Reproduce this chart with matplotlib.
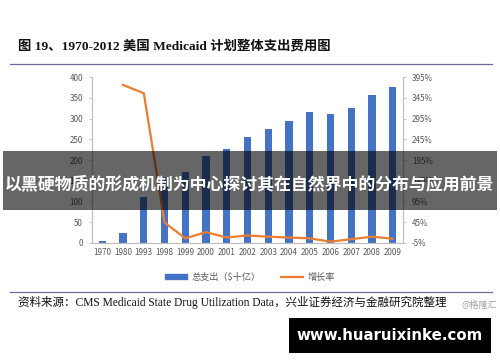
import matplotlib
matplotlib.use("Agg")
import matplotlib.pyplot as plt
from matplotlib.patches import Rectangle
from matplotlib.lines import Line2D
import numpy as np

plt.rcParams['font.family'] = ['Noto Sans CJK SC', 'DejaVu Sans']

years = ["1970", "1980", "1993", "1998", "1999", "2000", "2001", "2002",
         "2003", "2004", "2005", "2006", "2007", "2008", "2009"]
spend = [5, 23, 110, 160, 170, 210, 226, 255, 275, 295, 315, 312, 325, 356, 375]
growth = [np.nan, 376, 356, 44, 6, 21, 8, 13, 10, 8, 6, -2, 4, 10, 5]

blue = "#4472C4"
orange = "#ED7D31"
grey = "#595959"

fig = plt.figure(figsize=(5.0, 3.62), dpi=100)
ax = fig.add_axes([0.184, 0.329, 0.622, 0.458])
x = np.arange(len(years))
ax.bar(x, spend, width=0.35, color=blue, zorder=2)
ax.set_xlim(-0.5, len(years) - 0.5)
ax.set_ylim(0, 400)
ax.set_yticks(range(0, 401, 50))
ax.set_xticks(x)
ax.set_xticklabels(years)

ax2 = ax.twinx()
ax2.plot(x, growth, color=orange, lw=1.6, zorder=3)
ax2.set_ylim(-5, 395)
ax2.set_yticks(range(-5, 396, 50))
ax2.set_yticklabels([f"{v}%" for v in range(-5, 396, 50)])

for a in (ax, ax2):
    a.spines["top"].set_visible(False)
    for s in ("left", "right", "bottom"):
        a.spines[s].set_color("#bfbfbf")
        a.spines[s].set_linewidth(0.8)
    a.tick_params(labelsize=5.8, colors=grey, length=2.5, width=0.6, pad=4)
    a.tick_params(axis="x", length=0)
    a.tick_params(axis="y", color="#bfbfbf")

handles = [Rectangle((0, 0), 1, 1, color=blue),
           Line2D([0], [0], color=orange, lw=1.6)]
fig.legend(handles, ["总支出（$十亿）", "增长率"], loc="center",
           bbox_to_anchor=(0.5, 1 - 277 / 362), ncol=2, frameon=False,
           fontsize=6.6, labelcolor=grey, handlelength=2.4, handleheight=0.45,
           handletextpad=0.5, columnspacing=2.2)

serif = ['Liberation Serif', 'Noto Sans CJK SC']
fig.text(0.036, 1 - 46 / 362, "图 19、1970-2012 美国 Medicaid 计划整体支出费用图",
         fontsize=9.6, fontweight="bold", family=serif, va="center", color="#111111")
fig.add_artist(Line2D([0.02, 0.984], [1 - 64 / 362] * 2, color="#6b6b9e", lw=0.9))
fig.add_artist(Line2D([0.02, 0.984], [1 - 292 / 362] * 2, color="#6b6b9e", lw=0.9))
fig.text(0.036, 1 - 302 / 362,
         "资料来源：CMS Medicaid State Drug Utilization Data，兴业证券经济与金融研究院整理",
         fontsize=8.3, family=serif, va="center", color="#111111")
fig.text(0.994, 1 - 305 / 362, "@格隆汇", fontsize=6.5, ha="right", va="center",
         color="#a0a0a0")

# overlay band with headline
fig.add_artist(Rectangle((0.006, 1 - 210 / 362), 0.988, 59 / 362,
                         transform=fig.transFigure, color="black", alpha=0.6,
                         zorder=10, lw=0))
fig.text(0.5, 1 - 184 / 362, "以黑硬物质的形成机制为中心探讨其在自然界中的分布与应用前景",
         fontsize=12.2, fontweight="bold", color="white", ha="center", va="center",
         zorder=11)

# watermark box
fig.add_artist(Rectangle((289 / 500, 1 - 353 / 362), 202 / 500, 35 / 362,
                         transform=fig.transFigure, color="black", zorder=10, lw=0))
fig.text(390 / 500, 1 - 335.5 / 362, "www.huaruixinke.com", fontsize=10.8,
         fontweight="bold", color="white", ha="center", va="center", zorder=11,
         family=["DejaVu Sans"])

fig.savefig("out.png", dpi=100)
